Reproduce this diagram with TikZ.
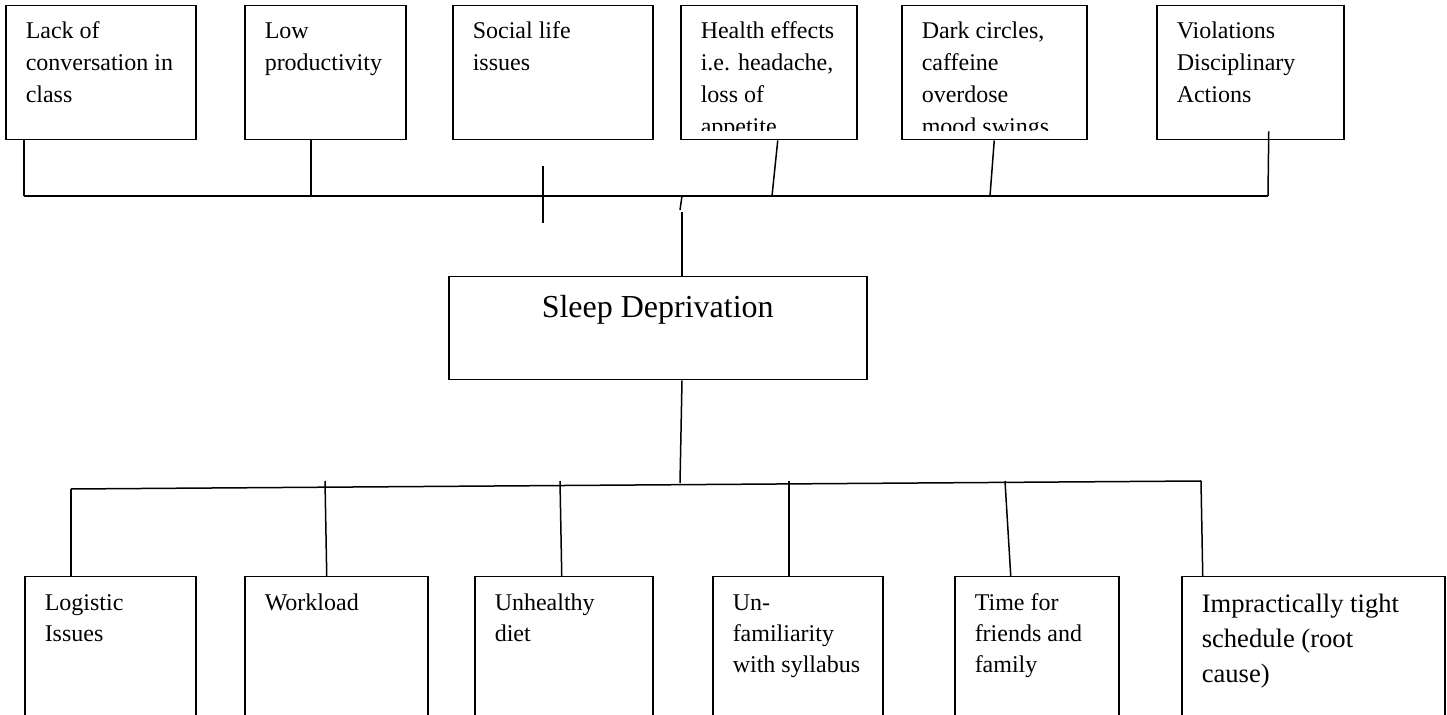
\documentclass[tikz,border=0pt]{standalone}
\usepackage{fontspec}
\setmainfont{Liberation Serif}

\begin{document}
\begin{tikzpicture}[x=0.5pt, y=-0.5pt, line width=0.75pt, effect/.style={draw, rectangle, anchor=north west, inner xsep=10pt, inner ysep=5.3pt, font=\fontsize{12}{16}\selectfont}, cause/.style={effect, inner ysep=6.15pt, font=\fontsize{12}{15.5}\selectfont}]
    \useasboundingbox (0,0) rectangle (1447,715);

    \node[effect] (c1) at (5,5) {\parbox[t][56.4pt][t]{75pt}{\strut Lack of\\conversation in\\class}};
    \node[effect] (c2) at (244,5) {\parbox[t][56.4pt][t]{60.5pt}{\strut Low\\productivity}};
    \node[effect] (c3) at (452,5) {\parbox[t][56.4pt][t]{80pt}{\strut Social life\\issues}};
    \node[effect, minimum width=88pt, minimum height=67pt] (c4) at (680,5) {};
    \node[effect, minimum width=92.5pt, minimum height=67pt] (c5) at (901,5) {};
    \node[effect] (c6) at (1156,5) {\parbox[t][56.4pt][t]{73.5pt}{\strut Violations\\Disciplinary\\Actions}};

    \begin{scope}
        \clip (c4.north west) rectangle ([yshift=5pt]c4.south east);
        \node[effect, draw=none] (c4t) at (c4.north west) {\parbox[t][56.4pt][t]{68pt}{\strut Health effects\\i.e. headache,\\loss of\\appetite}};
    \end{scope}
    \begin{scope}
        \clip (c5.north west) rectangle ([yshift=5pt]c5.south east);
        \node[effect, draw=none] (c5t) at (c5.north west) {\parbox[t][56.4pt][t]{72.5pt}{\strut Dark circles,\\caffeine\\overdose\\mood swings}};
    \end{scope}

    \node[draw, anchor=north west, inner xsep=0pt, inner ysep=7.6pt, font=\fontsize{16}{18.4}\selectfont] (sd) at (448,276) {\parbox[t][36.3pt][t]{209pt}{\centering\strut Sleep Deprivation}};

    \node[cause] (b1) at (24,576) {\parbox[t][60.7pt][t]{65.5pt}{\strut Logistic\\Issues}};
    \node[cause] (b2) at (244,576) {\parbox[t][60.7pt][t]{71.5pt}{\strut Workload}};
    \node[cause] (b3) at (474,576) {\parbox[t][60.7pt][t]{69pt}{\strut Unhealthy\\diet}};
    \node[cause] (b4) at (712,576) {\parbox[t][60.7pt][t]{65pt}{\strut Un-\\familiarity\\with syllabus}};
    \node[cause] (b5) at (954,576) {\parbox[t][60.7pt][t]{62pt}{\strut Time for\\friends and\\family}};
    \node[cause, inner ysep=5.75pt, font=\fontsize{13.3}{17.5}\selectfont] (b6) at (1181,576) {\parbox[t][61.5pt][t]{111.5pt}{\strut Impractically tight\\schedule (root\\cause)}};

    \coordinate (t1) at (24,196);
    \coordinate (t2) at (311,196);
    \coordinate (t4) at (772,196);
    \coordinate (t5) at (990,196);
    \coordinate (t6) at (1268,196);
    \coordinate (tm) at (682,196);
    \coordinate (tk) at (680,210);
    \coordinate (tk2) at (682,212);
    \coordinate (s1) at (543,166);
    \coordinate (s2) at (543,223);

    \draw (t1) -- (t6);
    \draw (c1.south -| t1) -- (t1);
    \draw (c2.south -| t2) -- (t2);
    \draw (s1) -- (s2);
    \draw ([xshift=4.5pt]c4.south) -- (t4);
    \draw (c5.south) -- (t5);
    \draw ([xshift=9.25pt, yshift=4.5pt]c6.south) -- (t6);
    \draw (tm) -- (tk);
    \draw (tk2) -- (sd.north -| tk2);

    \coordinate (bm) at (680,483);
    \coordinate (u1) at (71,489);
    \coordinate (u2) at (325,481);
    \coordinate (u3) at (560,481);
    \coordinate (u4) at (789,481);
    \coordinate (u5) at (1005,481);
    \coordinate (u6) at (1201,481);

    \draw (sd.south -| tm) -- (bm);
    \draw (u1) -- (u6);
    \draw (u1) -- (b1.north -| u1);
    \draw (u2) -- ([xshift=-4.75pt]b2.north);
    \draw (u3) -- ([xshift=-1pt]b3.north);
    \draw (u4) -- (b4.north -| u4);
    \draw (u5) -- ([xshift=-13pt]b5.north);
    \draw (u6) -- ([xshift=-55.25pt]b6.north);
\end{tikzpicture}
\end{document}
